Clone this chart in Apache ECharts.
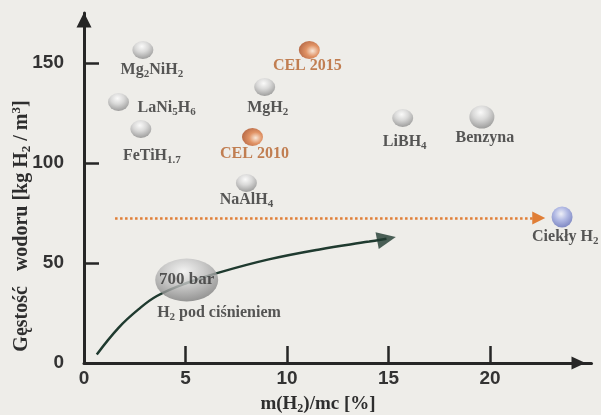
<!DOCTYPE html>
<html>
<head>
<meta charset="utf-8">
<script src="https://cdn.jsdelivr.net/npm/echarts@6/dist/echarts.min.js"></script>
<style>
html,body{margin:0;padding:0;background:#eeede9}
#chart{width:601px;height:415px}
</style>
</head>
<body>
<div id="chart"></div>
<script>
// materials: mass fraction of H2 [%] vs volumetric density [kg H2 / m3]
var materials = ['Mg2NiH2', 'LaNi5H6', 'FeTiH1.7', 'MgH2', 'CEL 2010', 'NaAlH4', 'CEL 2015', 'LiBH4', 'Benzyna', 'Ciekły H2'];
var labels = ['Mg{s|2}NiH{s|2}', 'LaNi{s|5}H{s|6}', 'FeTiH{s|1.7}', 'MgH{s|2}', 'CEL 2010', 'NaAlH{s|4}', 'CEL 2015', 'LiBH{s|4}', 'Benzyna', 'Ciekły H{s|2}'];
var massPct = [2.9, 1.7, 2.8, 8.9, 8.3, 8.0, 11.1, 15.7, 19.6, 23.55];
var density = [156.5, 130.5, 117, 138, 113, 90, 156.5, 122.5, 123, 73];

// compressed hydrogen curve
var pressX = [0.63, 1.7, 2.68, 3.59, 5.06, 6.64, 9.1, 11.6, 14.05, 14.9];
var pressY = [4.3, 17.6, 26.8, 33.5, 40, 45.2, 51.8, 56.8, 60.7, 62.1];
var bar700 = [5.06, 41.5];
var pressNote = [6.65, 25];

// dotted arrow toward liquid H2
var liquidFrom = [1.53, 72.5];
var liquidTo = [22.4, 72.5];

var xTicks = [0, 5, 10, 15, 20];
var yTicks = [0, 50, 100, 150];

var serif = '"Liberation Serif", "DejaVu Serif", serif';
var sans = '"Liberation Sans", Arial, sans-serif';

function sphere(c0, c1, c2, gx, gy) {
    return {
        type: 'radial', x: gx, y: gy, r: 0.7,
        colorStops: [{offset: 0, color: c0}, {offset: 0.45, color: c1}, {offset: 1, color: c2}]
    };
}
var grayBall = sphere('#fdfdfd', '#d4d4d4', '#8a8a8a', 0.45, 0.3);
var orangeBall = sphere('#fbe6d4', '#dd7c44', '#a4441a', 0.65, 0.55);
var blueBall = sphere('#eef0fb', '#a2ace2', '#5b67b3', 0.45, 0.35);

var look = {
    'Mg2NiH2': {ball: grayBall, off: [9, 20]},
    'LaNi5H6': {ball: grayBall, off: [19, 6], align: 'left'},
    'FeTiH1.7': {ball: grayBall, off: [11, 27]},
    'MgH2': {ball: grayBall, off: [3, 21]},
    'CEL 2010': {ball: orangeBall, off: [2, 17], color: '#b5612b'},
    'NaAlH4': {ball: grayBall, off: [0, 17]},
    'CEL 2015': {ball: orangeBall, off: [-2, 16], color: '#b5612b'},
    'LiBH4': {ball: grayBall, off: [2, 24]},
    'Benzyna': {ball: grayBall, off: [3, 21], size: [25, 23]},
    'Ciekły H2': {ball: blueBall, off: [-30, 20], align: 'left', size: [21, 21]}
};

var subRich = {
    s: {fontSize: 11, fontFamily: serif, fontWeight: 'bold', color: '#2e2e2e', padding: [8, 0, 0, 0]}
};

var points = materials.map(function (name, i) {
    var lk = look[name];
    return {
        name: name,
        value: [massPct[i], density[i]],
        symbolSize: lk.size || [21, 18],
        itemStyle: {color: lk.ball},
        label: {
            show: true,
            position: 'inside',
            offset: lk.off,
            align: lk.align || 'center',
            formatter: labels[i],
            color: lk.color || '#2e2e2e',
            fontFamily: serif,
            fontWeight: 'bold',
            fontSize: 16,
            rich: subRich
        }
    };
});

var curve = pressX.map(function (x, i) { return [x, pressY[i]]; });

var myChart = echarts.init(document.getElementById('chart'));
var option = {
    backgroundColor: '#eeede9',
    animation: false,
    grid: {left: 84, right: 9.5, top: 13, bottom: 52},
    xAxis: {
        type: 'value',
        min: 0, max: 25, interval: 5,
        splitLine: {show: false},
        axisLine: {lineStyle: {color: '#262626', width: 3}, symbol: ['none', 'triangle'], symbolSize: [13, 14], symbolOffset: [0, -13]},
        axisTick: {inside: true, length: 17, lineStyle: {color: '#262626', width: 2.5}, customValues: [5, 10, 15, 20]},
        axisLabel: {customValues: xTicks, color: '#333', fontFamily: sans, fontWeight: 'bold', fontSize: 19, margin: 6}
    },
    yAxis: {
        type: 'value',
        min: 0, max: 175, interval: 25,
        splitLine: {show: false},
        axisLine: {lineStyle: {color: '#262626', width: 3}, symbol: ['none', 'triangle'], symbolSize: [15, 15], symbolOffset: [0, -7]},
        axisTick: {inside: true, length: 15, lineStyle: {color: '#262626', width: 2.5}, customValues: [50, 100, 150]},
        axisLabel: {customValues: yTicks, color: '#333', fontFamily: sans, fontWeight: 'bold', fontSize: 19, margin: 20}
    },
    graphic: [{
        type: 'text',
        x: 22, y: 226,
        rotation: Math.PI / 2,
        style: {
            text: 'Gęstość   wodoru [kg H{s|2} / m{p|3}]',
            font: 'bold 20px ' + serif,
            fill: '#2e2e2e',
            align: 'center',
            verticalAlign: 'middle',
            rich: {
                s: {fontSize: 13, fontFamily: serif, fontWeight: 'bold', fill: '#2e2e2e', padding: [9, 0, 0, 0]},
                p: {fontSize: 13, fontFamily: serif, fontWeight: 'bold', fill: '#2e2e2e', padding: [0, 0, 11, 0]}
            }
        }
    }, {
        type: 'text',
        x: 318, y: 404,
        style: {
            text: 'm(H{s|2})/mc [%]',
            font: 'bold 19px ' + serif,
            fill: '#2e2e2e',
            align: 'center',
            verticalAlign: 'middle',
            rich: {
                s: {fontSize: 12, fontFamily: serif, fontWeight: 'bold', fill: '#2e2e2e', padding: [9, 0, 0, 0]}
            }
        }
    }],
    series: [{
        type: 'line',
        data: curve,
        smooth: 0.4,
        showSymbol: false,
        lineStyle: {color: '#1f3a2f', width: 2.5},
        z: 2
    }, {
        type: 'scatter',
        data: [curve[curve.length - 1]],
        symbol: 'triangle',
        symbolSize: [17, 19],
        symbolRotate: -79,
        itemStyle: {color: '#1f3a2f'},
        z: 2
    }, {
        type: 'lines',
        coordinateSystem: 'cartesian2d',
        data: [{coords: [liquidFrom, liquidTo]}],
        symbol: ['none', 'triangle'],
        symbolSize: 13,
        lineStyle: {color: '#e07e36', width: 2.5, type: 'dotted', opacity: 1},
        z: 2
    }, {
        type: 'scatter',
        data: [{
            value: bar700,
            label: {show: true, position: 'inside', formatter: '700 bar', color: '#333', fontFamily: serif, fontWeight: 'bold', fontSize: 17}
        }],
        symbol: 'circle',
        symbolSize: [63, 43],
        itemStyle: {color: sphere('#f4f4f4', '#c4c4c4', '#7e7e7e', 0.45, 0.3)},
        z: 4
    }, {
        type: 'scatter',
        data: [{
            value: pressNote,
            label: {show: true, position: 'inside', formatter: 'H{s|2} pod ciśnieniem', color: '#2e2e2e', fontFamily: serif, fontWeight: 'bold', fontSize: 16, rich: subRich}
        }],
        symbolSize: 0,
        z: 4
    }, {
        type: 'scatter',
        data: points,
        z: 5
    }]
};
myChart.setOption(option);
</script>
</body>
</html>
